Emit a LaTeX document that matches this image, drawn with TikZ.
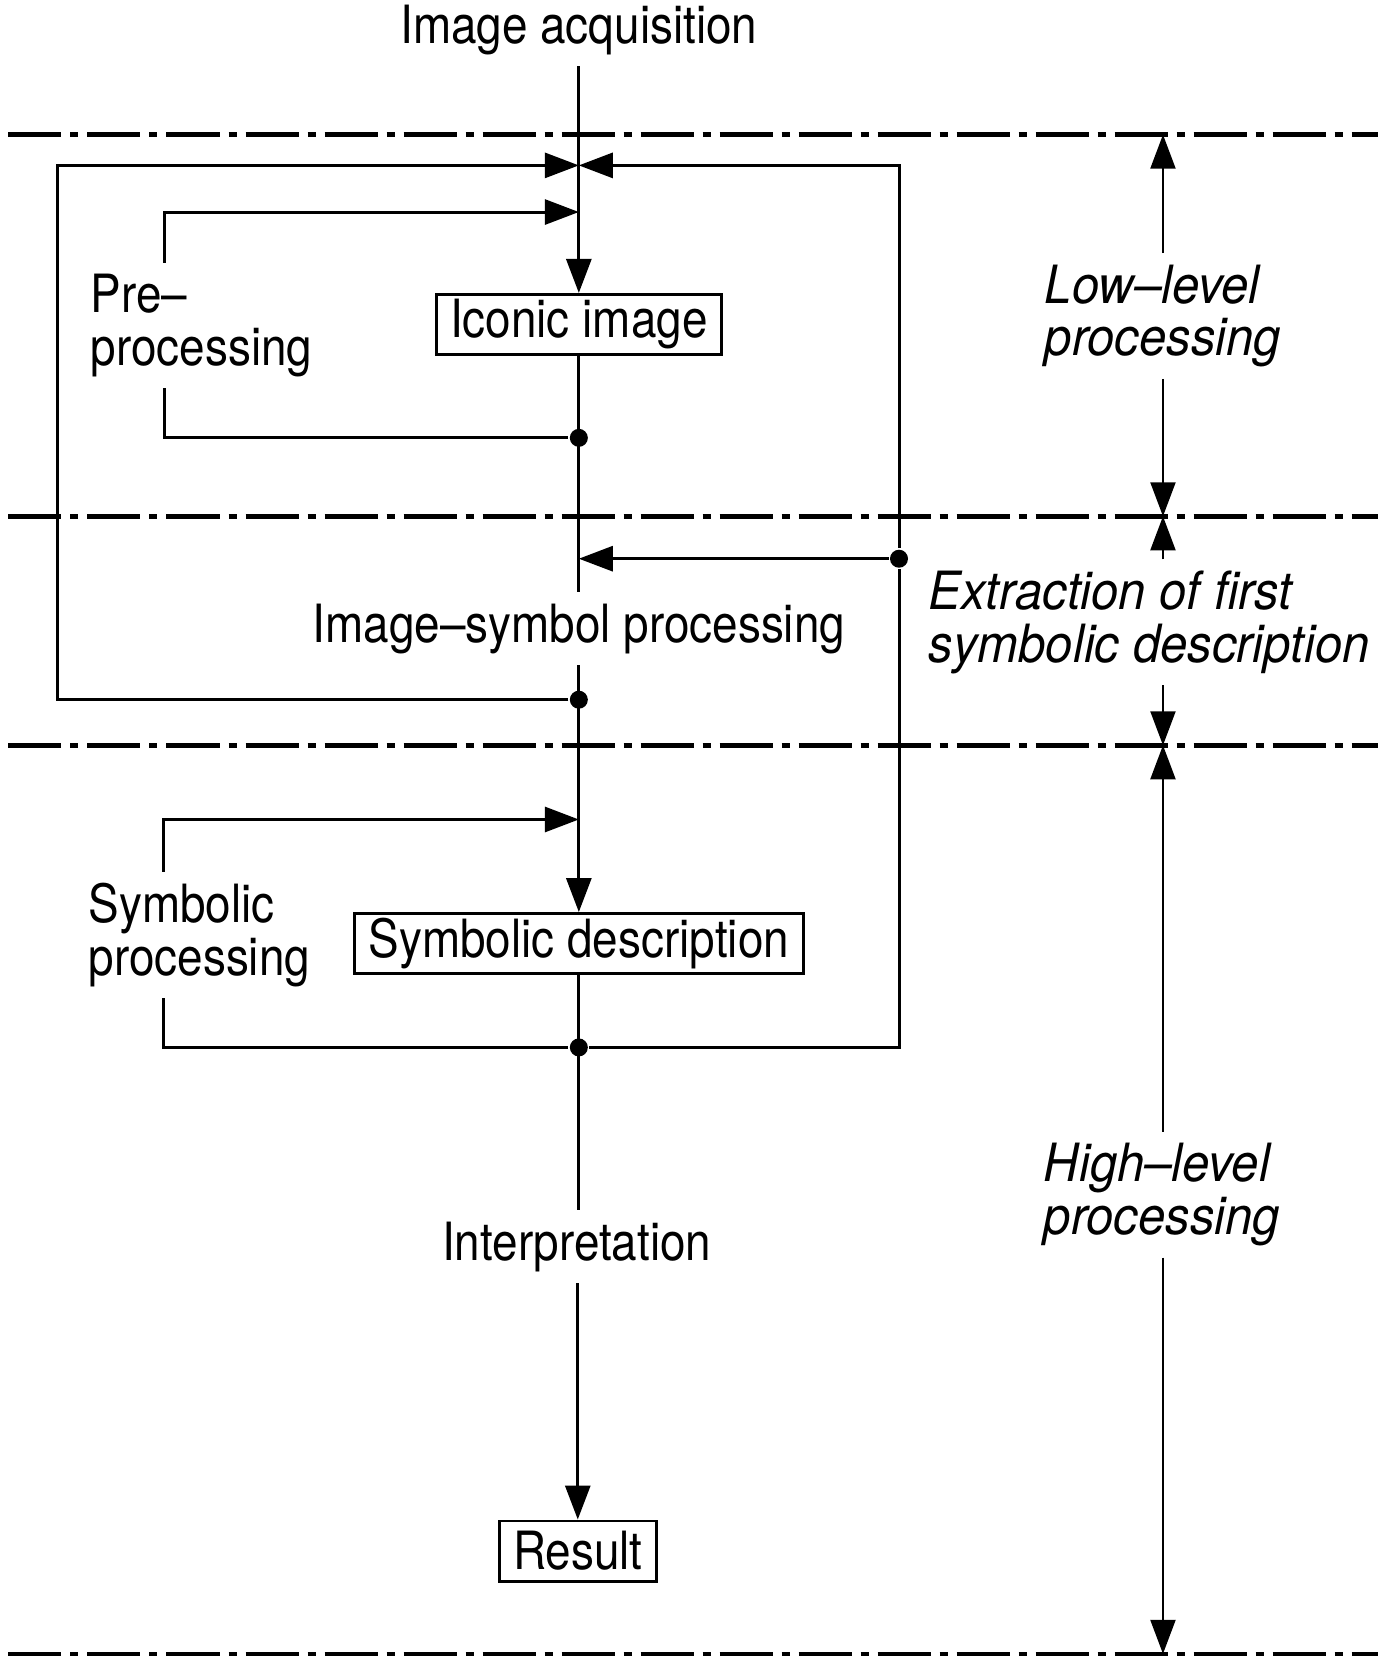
\documentclass[tikz,border=0pt]{standalone}
\usepackage{fontspec}
\setmainfont{TeX Gyre Heros}[FakeStretch=0.87]
\newfontfamily\slantfont{TeX Gyre Heros}[Ligatures=TeX, FakeStretch=0.93]
\usepackage{tikz}
\usetikzlibrary{arrows.meta}

\begin{document}
\begin{tikzpicture}[x=0.106mm, y=-0.106mm, line width=0.85pt, >={Triangle[length=3.4mm,width=2.5mm]}]
        \tikzstyle{every node}=[font=\fontsize{15}{15}\selectfont, inner sep=1mm]
        \tikzstyle{box}=[draw, inner xsep=1.4mm, inner ysep=0pt, minimum height=6mm]
        \tikzstyle{dot}=[fill, circle, minimum size=1.8mm, inner sep=0pt]
        \tikzstyle{level}=[line width=1.3pt, dash pattern=on 5.3mm off 0.9mm on 0.8mm off 0.9mm]
        \tikzstyle{span}=[line width=0.6pt]
        \tikzstyle{part}=[align=left, font=\fontsize{15}{15}\selectfont\slantfont\itshape]
        \useasboundingbox (0,0) rectangle (1300,1563);

        \draw[level] (8,127) -- (1300,127);
        \draw[level] (8,487) -- (1300,487);
        \draw[level] (8,703) -- (1300,703);
        \draw[level] (8,1560) -- (1300,1560);

        \node (11) at (546,28) {Image acquisition};
        \node[box] (12) at (546,306) {Iconic image};
        \node[dot] (13) at (546,413) {};
        \node (14) at (546,593) {Image--symbol processing};
        \node[dot] (15) at (546,660) {};
        \node[box] (16) at (546,890) {Symbolic description};
        \node[dot] (17) at (546,988) {};
        \node (18) at (544,1176) {Interpretation};
        \node[box] (19) at (545,1463) {Result};

        \coordinate (20) at (546,156);
        \coordinate (21) at (546,200);
        \coordinate (22) at (546,527);
        \coordinate (23) at (546,773);

        \draw[->] (11) -- (12);
        \draw (12) -- (14);
        \draw[->] (14) -- (16);
        \draw (16) -- (18.north -| 16);
        \draw[->] (18.south -| 19) -- (19);

        \node[align=left] (24) at (190,307) {Pre--\\processing};
        \node[align=left] (25) at (188,882) {Symbolic\\processing};
        \coordinate (26) at (155,0);
        \coordinate (27) at (154,0);
        \coordinate (28) at (54,660);
        \node[dot] (29) at (848,527) {};
        \coordinate (30) at (848,988);

        \draw[->] (26 |- 24.north) |- (21);
        \draw (26 |- 24.south) |- (13);
        \draw[->] (27 |- 25.north) |- (23);
        \draw (27 |- 25.south) |- (17);
        \draw[->] (15) -- (28) |- (20);
        \draw (17) -- (30) -- (29);
        \draw[->] (29) |- (20);
        \draw[->] (29) -- (22);

        \node[part] (31) at (1097,298) {Low--level\\processing};
        \node[part] (32) at (1084,587) {Extraction of first\\symbolic description};
        \node[part] (33) at (1096,1127) {High--level\\processing};
        \coordinate (34) at (1097,127);
        \coordinate (35) at (1097,487);
        \coordinate (36) at (1097,703);
        \coordinate (37) at (1097,1560);

        \draw[span,->] (31.north -| 34) -- (34);
        \draw[span,->] (31.south -| 35) -- (35);
        \draw[span,->] (32.north -| 35) -- (35);
        \draw[span,->] (32.south -| 36) -- (36);
        \draw[span,->] (33.north -| 36) -- (36);
        \draw[span,->] (33.south -| 37) -- (37);
\end{tikzpicture}
\end{document}
